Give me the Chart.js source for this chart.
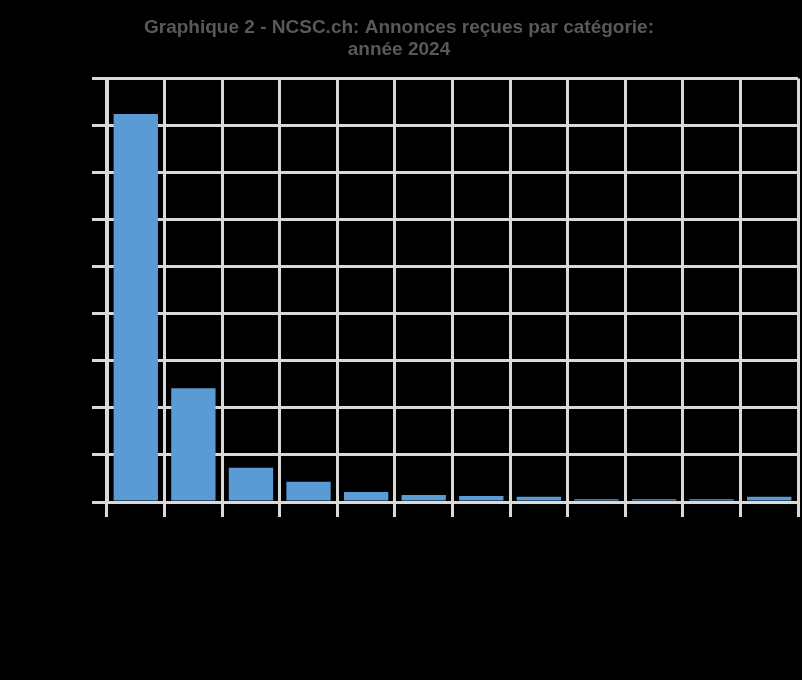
<!DOCTYPE html><html><head><meta charset="utf-8">
<script src="https://cdn.jsdelivr.net/npm/chart.js@4"></script>
<style>html,body{margin:0;background:#000}#w{width:802px;height:680px}</style></head><body><div id="w"><canvas id="c"></canvas></div>
<script>
const categories=["Fraude","Hameçonnage","Spam","Logiciels malveillants","Piratage","Vulnérabilités","Fuite de données","Menaces","Ransomware","DDoS","Défacement","Autres"];
const values=[41250,12100,3650,2150,1050,750,650,550,300,300,300,550];
const yTicks={min:0,max:45000,step:5000};
const grid={color:'#d9d9d9',lineWidth:3,tickLength:15,offset:true};
new Chart(document.getElementById('c'),{type:'bar',
data:{labels:categories,datasets:[{data:values,backgroundColor:'#5b9bd5',barPercentage:0.77,categoryPercentage:1}]},
options:{responsive:true,maintainAspectRatio:false,animation:false,
layout:{padding:{left:0,right:4,top:0,bottom:0}},
plugins:{legend:{display:false},tooltip:{enabled:false},
title:{display:true,text:['Graphique 2 - NCSC.ch: Annonces reçues par catégorie:','année 2024'],color:'#595959',font:{family:'Liberation Sans',size:19,weight:'bold'},lineHeight:1.25,padding:{top:16,bottom:17}}},
scales:{
x:{grid:grid,border:{color:'#d9d9d9',width:3},ticks:{color:'#000',maxRotation:45,minRotation:45},afterFit:s=>{s.height=178;}},
y:{min:yTicks.min,max:yTicks.max,ticks:{stepSize:yTicks.step,color:'#000'},grid:{color:'#d9d9d9',lineWidth:3,tickLength:15},border:{color:'#d9d9d9',width:3},afterFit:s=>{s.width=107;}}
}}});
</script></body></html>
